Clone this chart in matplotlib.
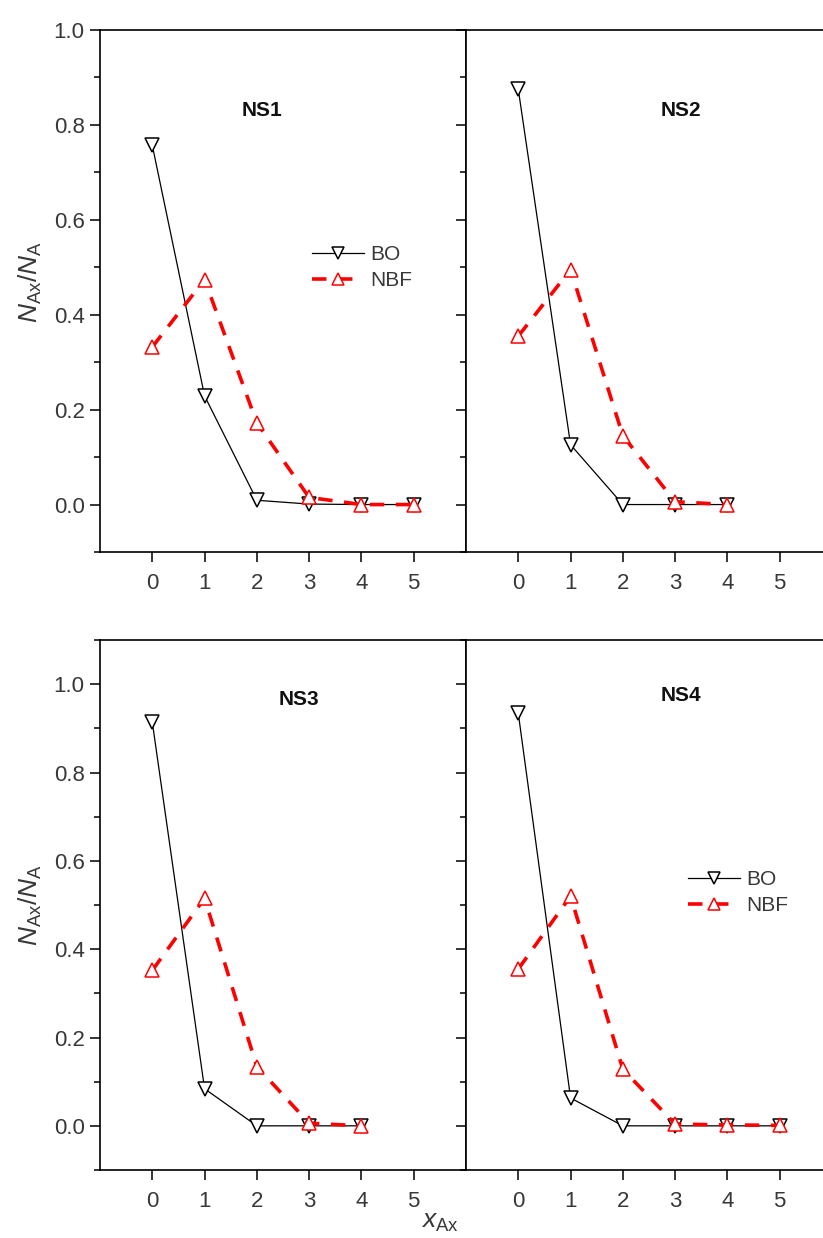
import matplotlib
matplotlib.use("Agg")
import matplotlib.pyplot as plt
from matplotlib.ticker import MultipleLocator, FormatStrFormatter

plt.rcParams['font.family'] = ['Liberation Sans', 'DejaVu Sans']
plt.rcParams['mathtext.fontset'] = 'custom'
plt.rcParams['mathtext.rm'] = 'Liberation Sans'
plt.rcParams['mathtext.it'] = 'Liberation Sans:italic'

# data
x_ns1 = [0, 1, 2, 3, 4, 5]
bo_ns1 = [0.757, 0.229, 0.009, 0.001, 0.0, 0.0]
nbf_ns1 = [0.332, 0.474, 0.172, 0.015, 0.0, 0.0]

x_ns2 = [0, 1, 2, 3, 4]
bo_ns2 = [0.875, 0.126, 0.0, 0.0, 0.0]
nbf_ns2 = [0.355, 0.495, 0.145, 0.006, 0.0]

x_ns3 = [0, 1, 2, 3, 4]
bo_ns3 = [0.914, 0.084, 0.0, 0.0, 0.0]
nbf_ns3 = [0.352, 0.515, 0.134, 0.006, 0.0]

x_ns4 = [0, 1, 2, 3, 4, 5]
bo_ns4 = [0.934, 0.063, 0.0, 0.0, 0.0, 0.0]
nbf_ns4 = [0.355, 0.52, 0.128, 0.004, 0.002, 0.001]

names = ["NS1", "NS2", "NS3", "NS4"]
series_names = ["BO", "NBF"]

W, H = 823, 1238
fig = plt.figure(figsize=(W / 100, H / 100), dpi=100)


def px_axes(left, top, right, bottom):
    return fig.add_axes([left / W, 1 - bottom / H, (right - left) / W, (bottom - top) / H])


ax1 = px_axes(100, 30, 466, 552)
ax2 = px_axes(466, 30, 832, 552)
ax3 = px_axes(100, 640, 466, 1170)
ax4 = px_axes(466, 640, 832, 1170)

panels = [
    (ax1, x_ns1, bo_ns1, nbf_ns1, (2.1, 0.83), (-0.1, 1.0)),
    (ax2, x_ns2, bo_ns2, nbf_ns2, (3.12, 0.83), (-0.1, 1.0)),
    (ax3, x_ns3, bo_ns3, nbf_ns3, (2.8, 0.965), (-0.1, 1.1)),
    (ax4, x_ns4, bo_ns4, nbf_ns4, (3.12, 0.975), (-0.1, 1.1)),
]

grey = "#383838"

for i, (ax, xs, bo, nbf, txt, ylim) in enumerate(panels):
    ax.plot(xs, bo, color="black", linewidth=0.9, marker="v", markersize=10,
            markerfacecolor="white", markeredgecolor="black", markeredgewidth=1.1,
            label=series_names[0])
    ax.plot(xs, nbf, color="red", linewidth=2.6, linestyle=(0, (4, 3.2)), marker="^",
            markersize=10, markerfacecolor="white", markeredgecolor="red",
            markeredgewidth=1.1, label=series_names[1])
    ax.set_xlim(-1, 6)
    ax.set_ylim(*ylim)
    ax.set_xticks([0, 1, 2, 3, 4, 5])
    ax.yaxis.set_major_locator(MultipleLocator(0.2))
    ax.yaxis.set_minor_locator(MultipleLocator(0.1))
    ax.yaxis.set_major_formatter(FormatStrFormatter("%.1f"))
    ax.tick_params(axis="both", which="major", direction="out", length=7, width=1.1,
                   labelsize=16, labelcolor=grey)
    ax.tick_params(axis="x", which="major", pad=8)
    ax.tick_params(axis="y", which="major", pad=4)
    ax.tick_params(axis="y", which="minor", direction="out", length=4, width=1.1)
    for s in ax.spines.values():
        s.set_linewidth(1.2)
    if i in (1, 3):
        ax.tick_params(axis="y", labelleft=False)
    ax.text(txt[0], txt[1], names[i], fontsize=15, fontweight="bold", ha="center",
            va="center", color="#111111")

leg_kw = dict(frameon=False, fontsize=15, handlelength=2.5, handletextpad=0.3,
              labelspacing=0.35, borderpad=0, borderaxespad=0, loc="center left",
              labelcolor=grey, markerscale=0.85)
ax1.legend(bbox_to_anchor=(0.579, 0.545), **leg_kw)
ax4.legend(bbox_to_anchor=(0.607, 0.5236), **leg_kw)

ylab = r"$N_{\mathrm{Ax}}/N_{\mathrm{A}}$"
fig.text(30 / W, 1 - 282 / H, ylab, rotation=90, fontsize=19, ha="center",
         va="center", color=grey)
fig.text(30 / W, 1 - 905 / H, ylab, rotation=90, fontsize=19, ha="center",
         va="center", color=grey)
fig.text(440 / W, 1 - 1222 / H, r"$x_{\mathrm{Ax}}$", fontsize=19, ha="center",
         va="center", color=grey)

fig.savefig("out.png", dpi=100)
